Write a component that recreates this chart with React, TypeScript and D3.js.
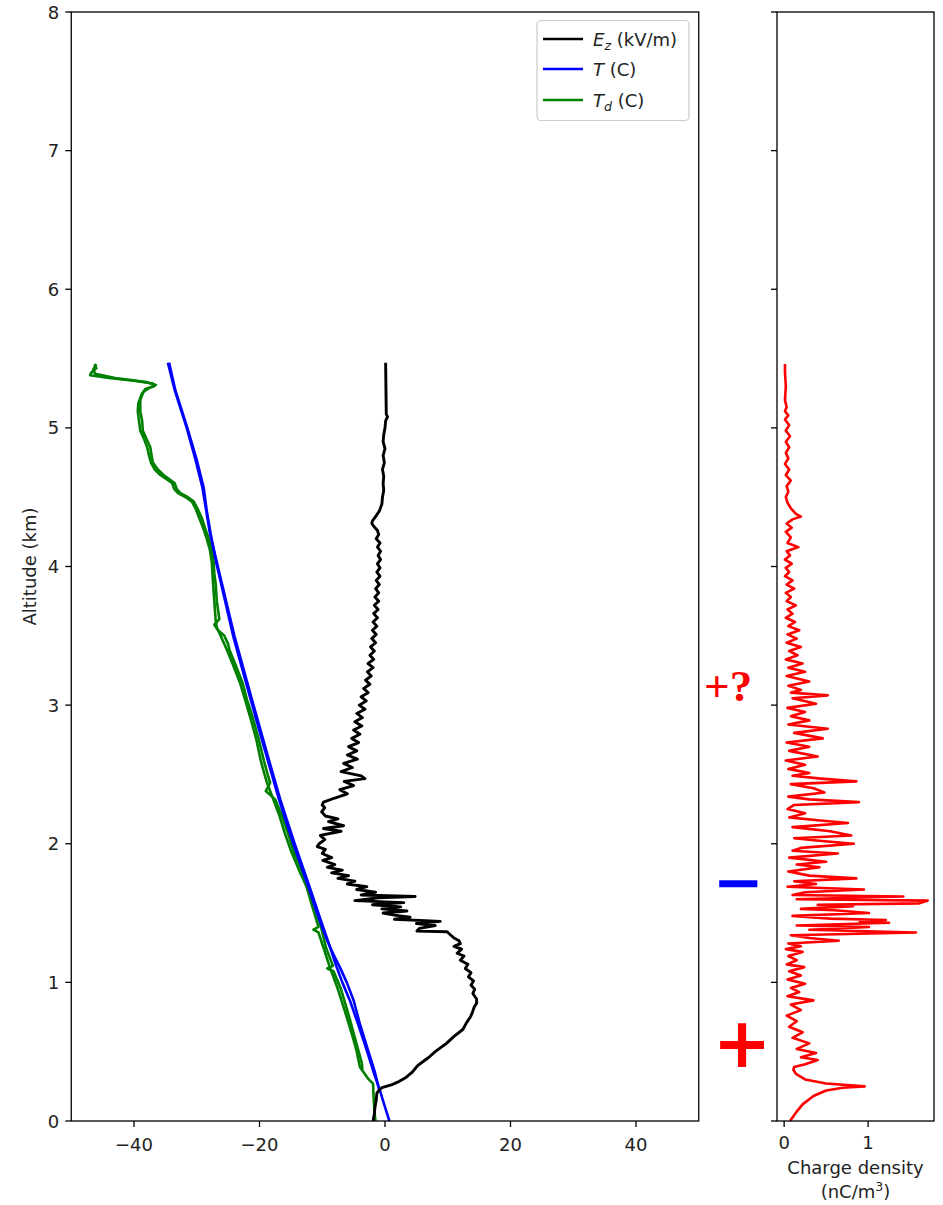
import React from "react";
import * as d3 from "d3";

// [altitude km, value]
const ezProfile: [number, number][] = [
  [5.47, 0.1], [5.1, 0.2], [5.08, 0.4], [5.05, 0.1], [5.0, 0.0], [4.95, -0.2], [4.9, -0.3], [4.85, 0.0],
  [4.8, -0.3], [4.75, -0.1], [4.7, -0.4], [4.65, -0.2], [4.6, -0.3], [4.55, -0.2], [4.5, -0.4], [4.45, -0.5],
  [4.4, -0.9], [4.36, -1.5], [4.33, -2.0], [4.31, -2.1], [4.29, -1.8], [4.26, -1.2], [4.23, -1.0], [4.2, -1.4],
  [4.17, -0.8], [4.14, -1.2], [4.11, -0.7], [4.08, -1.1], [4.05, -0.7], [4.02, -1.2], [3.99, -0.8], [3.96, -1.3],
  [3.93, -0.8], [3.9, -1.4], [3.87, -0.9], [3.84, -1.5], [3.81, -1.0], [3.78, -1.6], [3.75, -1.0], [3.72, -1.7],
  [3.69, -1.1], [3.66, -1.8], [3.63, -1.2], [3.6, -1.9], [3.57, -1.3], [3.54, -2.0], [3.51, -1.4], [3.48, -2.1],
  [3.45, -1.5], [3.42, -2.3], [3.39, -1.7], [3.36, -2.4], [3.33, -1.8], [3.3, -2.7], [3.27, -1.9], [3.24, -2.8],
  [3.21, -2.2], [3.18, -3.1], [3.15, -2.4], [3.12, -3.4], [3.09, -2.7], [3.06, -3.8], [3.03, -3.0], [3.0, -4.1],
  [2.97, -3.2], [2.94, -4.5], [2.91, -3.6], [2.88, -4.8], [2.85, -3.7], [2.82, -5.0], [2.79, -4.0], [2.76, -5.3],
  [2.73, -4.2], [2.7, -5.8], [2.67, -4.5], [2.64, -6.0], [2.61, -4.4], [2.58, -6.6], [2.55, -5.2], [2.52, -7.0],
  [2.49, -3.8], [2.47, -3.2], [2.45, -6.5], [2.42, -5.0], [2.39, -7.2], [2.36, -6.0], [2.33, -8.0], [2.3, -9.8],
  [2.28, -10.0], [2.26, -9.6], [2.23, -10.1], [2.2, -9.5], [2.18, -7.5], [2.16, -9.0], [2.13, -6.6], [2.11, -9.8],
  [2.09, -7.0], [2.06, -10.3], [2.03, -9.6], [2.0, -10.5], [1.98, -10.8], [1.96, -9.5], [1.93, -10.0], [1.9, -8.5],
  [1.88, -9.9], [1.85, -8.0], [1.83, -9.2], [1.81, -6.8], [1.79, -8.5], [1.77, -5.8], [1.75, -7.5], [1.73, -4.8],
  [1.71, -6.0], [1.69, -2.9], [1.67, -4.5], [1.65, -1.5], [1.63, -3.8], [1.62, 4.8], [1.61, -1.0], [1.59, -4.8],
  [1.575, 3.0], [1.56, -2.0], [1.545, 2.5], [1.53, -0.5], [1.515, 3.5], [1.5, -0.3], [1.485, 1.5], [1.47, 4.0],
  [1.455, 1.5], [1.44, 8.8], [1.425, 5.0], [1.41, 8.0], [1.39, 5.5], [1.37, 5.1], [1.365, 9.9], [1.34, 10.5],
  [1.32, 11.0], [1.3, 11.8], [1.28, 12.0], [1.26, 11.0], [1.24, 12.2], [1.21, 11.5], [1.19, 12.6], [1.16, 12.0],
  [1.13, 13.2], [1.1, 12.8], [1.07, 13.7], [1.04, 13.3], [1.01, 14.1], [0.98, 13.7], [0.95, 14.3], [0.92, 14.0],
  [0.88, 14.6], [0.85, 14.6], [0.82, 14.2], [0.78, 13.9], [0.75, 13.6], [0.71, 13.0], [0.66, 12.4], [0.61, 11.0],
  [0.56, 9.8], [0.5, 8.0], [0.46, 7.0], [0.44, 6.4], [0.4, 5.2], [0.35, 4.3], [0.31, 3.2], [0.28, 2.0],
  [0.26, 1.0], [0.24, -0.5], [0.22, -1.0], [0.2, -1.3], [0.15, -1.4], [0.1, -1.6], [0.05, -1.7], [0.0, -1.9],
];

const tempAscent: [number, number][] = [
  [0.0, 0.7], [0.1, 0.0], [0.22, -0.8], [0.35, -1.8], [0.51, -2.9], [0.7, -4.3], [0.87, -5.6], [1.0, -6.8],
  [1.11, -7.7], [1.3, -9.1], [1.47, -10.4], [1.7, -12.1], [2.0, -14.4], [2.32, -16.7], [2.7, -19.1], [3.04, -21.2],
  [3.5, -24.0], [4.03, -26.8], [4.24, -27.9], [4.57, -29.1], [4.77, -30.2], [5.0, -31.6], [5.27, -33.5], [5.47, -34.6],
];

const tempDescent: [number, number][] = [
  [0.22, -0.9], [0.35, -1.6], [0.51, -2.7], [0.7, -4.0], [0.87, -5.0], [1.0, -6.1], [1.11, -7.2], [1.2, -8.2],
  [1.3, -9.2], [1.47, -10.6], [1.7, -12.3], [2.0, -14.6], [2.32, -16.9], [2.7, -19.3], [3.04, -21.4], [3.5, -24.2],
  [4.03, -26.9], [4.24, -27.8], [4.4, -28.4], [4.57, -28.9], [4.77, -30.0], [5.0, -31.5], [5.27, -33.4], [5.47, -34.4],
];

const dewAscent: [number, number][] = [
  [5.46, -46.3], [5.43, -46.0], [5.4, -46.8], [5.38, -47.0], [5.36, -44.0], [5.34, -40.0], [5.32, -37.0], [5.3, -36.8],
  [5.28, -38.2], [5.24, -38.8], [5.18, -39.3], [5.12, -39.4], [5.05, -39.2], [4.98, -39.0], [4.92, -38.4], [4.86, -37.9],
  [4.8, -37.6], [4.75, -37.3], [4.7, -36.7], [4.66, -35.8], [4.63, -34.8], [4.6, -33.9], [4.56, -33.6], [4.53, -33.0],
  [4.5, -31.8], [4.47, -30.8], [4.42, -30.2], [4.35, -29.6], [4.28, -29.0], [4.2, -28.4], [4.12, -27.9], [4.03, -27.6],
  [3.95, -27.5], [3.88, -27.4], [3.75, -27.2], [3.62, -27.0], [3.56, -26.8], [3.5, -26.2], [3.44, -25.6], [3.4, -25.2],
  [3.3, -24.3], [3.16, -23.1], [3.04, -22.3], [2.9, -21.4], [2.75, -20.5], [2.6, -19.8], [2.5, -19.2], [2.44, -18.8],
  [2.32, -17.8], [2.2, -16.8], [2.08, -16.0], [1.95, -15.0], [1.8, -13.6], [1.69, -12.5], [1.55, -11.6], [1.4, -10.6],
  [1.38, -11.4], [1.36, -10.6], [1.25, -9.8], [1.11, -8.8], [0.95, -7.5], [0.75, -6.1], [0.6, -5.1], [0.5, -4.5],
  [0.39, -4.0], [0.3, -2.6], [0.27, -1.9], [0.15, -1.8], [0.03, -1.6], [0.0, -1.5],
];

const dewDescent: [number, number][] = [
  [5.46, -46.0], [5.42, -46.5], [5.39, -46.2], [5.36, -43.0], [5.33, -38.0], [5.31, -36.5], [5.29, -37.5], [5.26, -38.5],
  [5.2, -39.0], [5.12, -39.0], [5.05, -38.7], [4.98, -38.6], [4.92, -38.0], [4.86, -37.4], [4.8, -37.2], [4.75, -37.0],
  [4.7, -36.2], [4.66, -35.3], [4.63, -34.4], [4.6, -33.5], [4.56, -33.2], [4.53, -32.6], [4.5, -31.4], [4.47, -30.5],
  [4.42, -29.9], [4.35, -29.2], [4.28, -28.7], [4.2, -28.1], [4.12, -27.6], [4.03, -27.3], [3.95, -27.2], [3.88, -27.0],
  [3.75, -26.8], [3.62, -26.4], [3.58, -27.2], [3.54, -26.6], [3.5, -25.6], [3.44, -25.0], [3.4, -24.8], [3.3, -23.9],
  [3.16, -22.7], [3.04, -22.0], [2.9, -21.0], [2.75, -20.1], [2.6, -19.3], [2.5, -18.7], [2.44, -18.3], [2.38, -19.0],
  [2.32, -17.5], [2.2, -16.4], [2.08, -15.5], [1.95, -14.6], [1.8, -13.2], [1.69, -12.1], [1.55, -11.2], [1.4, -10.2],
  [1.25, -9.4], [1.12, -8.3], [1.1, -9.2], [1.08, -8.2], [0.95, -7.0], [0.75, -5.7], [0.6, -4.8], [0.5, -4.2],
  [0.42, -3.7], [0.37, -3.6],
];

const chargeDensity: [number, number][] = [
  [5.46, 0.01], [5.4, 0.01], [5.3, 0.02], [5.2, 0.01], [5.15, 0.03], [5.12, 0.01], [5.09, 0.05], [5.06, 0.01],
  [5.02, 0.06], [4.98, 0.02], [4.94, 0.07], [4.9, 0.02], [4.86, 0.06], [4.82, 0.02], [4.78, 0.05], [4.74, 0.01],
  [4.7, 0.06], [4.66, 0.02], [4.62, 0.08], [4.58, 0.03], [4.54, 0.05], [4.5, 0.02], [4.46, 0.04], [4.42, 0.08],
  [4.38, 0.14], [4.36, 0.2], [4.34, 0.1], [4.31, 0.03], [4.28, 0.09], [4.25, 0.02], [4.21, 0.08], [4.17, 0.04],
  [4.14, 0.17], [4.11, 0.03], [4.08, 0.07], [4.05, 0.01], [4.02, 0.09], [3.99, 0.02], [3.96, 0.06], [3.93, 0.01],
  [3.9, 0.1], [3.87, 0.03], [3.84, 0.12], [3.81, 0.02], [3.78, 0.08], [3.75, 0.03], [3.72, 0.14], [3.69, 0.04],
  [3.66, 0.1], [3.63, 0.02], [3.6, 0.13], [3.57, 0.05], [3.54, 0.18], [3.51, 0.04], [3.48, 0.15], [3.45, 0.03],
  [3.42, 0.2], [3.39, 0.06], [3.36, 0.16], [3.33, 0.02], [3.3, 0.22], [3.27, 0.05], [3.24, 0.25], [3.21, 0.03],
  [3.17, 0.3], [3.14, 0.05], [3.11, 0.2], [3.09, 0.08], [3.07, 0.52], [3.05, 0.1], [3.01, 0.38], [2.98, 0.04],
  [2.95, 0.25], [2.92, 0.08], [2.89, 0.3], [2.86, 0.05], [2.83, 0.52], [2.8, 0.12], [2.76, 0.46], [2.73, 0.03],
  [2.7, 0.3], [2.67, 0.06], [2.63, 0.4], [2.6, 0.02], [2.57, 0.25], [2.54, 0.05], [2.51, 0.3], [2.49, 0.1],
  [2.47, 0.44], [2.45, 0.86], [2.43, 0.08], [2.4, 0.35], [2.37, 0.48], [2.34, 0.05], [2.32, 0.3], [2.3, 0.89],
  [2.28, 0.12], [2.25, 0.04], [2.22, 0.25], [2.19, 0.06], [2.17, 0.4], [2.15, 0.76], [2.12, 0.1], [2.09, 0.55],
  [2.06, 0.8], [2.04, 0.12], [2.02, 0.45], [2.0, 0.83], [1.97, 0.2], [1.95, 0.1], [1.93, 0.64], [1.9, 0.06],
  [1.87, 0.5], [1.85, 0.15], [1.83, 0.42], [1.8, 0.05], [1.77, 0.3], [1.75, 0.86], [1.73, 0.12], [1.71, 0.38],
  [1.69, 0.04], [1.67, 0.95], [1.65, 0.25], [1.63, 0.1], [1.62, 1.42], [1.6, 0.15], [1.59, 1.71], [1.57, 1.61],
  [1.56, 0.4], [1.55, 0.82], [1.53, 0.2], [1.52, 0.6], [1.5, 1.01], [1.48, 0.1], [1.46, 0.55], [1.45, 1.21],
  [1.44, 0.9], [1.43, 1.25], [1.41, 0.15], [1.4, 1.01], [1.38, 0.3], [1.36, 1.57], [1.34, 0.08], [1.32, 0.3],
  [1.3, 0.65], [1.28, 0.05], [1.26, 0.2], [1.24, 0.02], [1.22, 0.22], [1.19, 0.05], [1.16, 0.15], [1.13, 0.03],
  [1.11, 0.24], [1.08, 0.06], [1.05, 0.2], [1.02, 0.04], [0.99, 0.25], [0.96, 0.08], [0.93, 0.18], [0.9, 0.04],
  [0.87, 0.35], [0.84, 0.08], [0.8, 0.2], [0.76, 0.03], [0.72, 0.15], [0.68, 0.06], [0.64, 0.22], [0.6, 0.1],
  [0.56, 0.3], [0.52, 0.15], [0.49, 0.38], [0.46, 0.2], [0.44, 0.4], [0.41, 0.25], [0.39, 0.12], [0.37, 0.11],
  [0.34, 0.14], [0.3, 0.25], [0.27, 0.5], [0.25, 0.96], [0.24, 0.7], [0.22, 0.5], [0.18, 0.35], [0.12, 0.22],
  [0.06, 0.14], [0.0, 0.07],
];

const mainXTicks = [-40, -20, 0, 20, 40];
const yTicks = [0, 1, 2, 3, 4, 5, 6, 7, 8];
const rightXTicks = [0, 1];

const FONT = "DejaVu Sans";
const FS = 18;
const fmt = (v: number) => (v < 0 ? "\u2212" + Math.abs(v) : String(v));

export default function App() {
  const x = d3.scaleLinear().domain([-50, 50]).range([71.25, 698.75]);
  const y = d3.scaleLinear().domain([0, 8]).range([1121, 12]);
  const xr = d3.scaleLinear().domain([-0.085, 1.785]).range([777, 934]);

  const lineMain = d3.line<[number, number]>().x((d) => x(d[1])).y((d) => y(d[0]));
  const lineRight = d3.line<[number, number]>().x((d) => xr(d[1])).y((d) => y(d[0]));

  const top = y(8);
  const bottom = y(0);
  const tick = 6;
  const lw = 2.6;

  return (
    <svg width={943} height={1205} style={{ position: "absolute", left: 0, top: 0, background: "#fff" }} fontFamily={FONT}>
      <rect x={0} y={0} width={943} height={1205} fill="#fff" />
      {/* Main panel data */}
      <path d={lineMain(dewAscent) || ""} fill="none" stroke="#008000" strokeWidth={lw} strokeLinejoin="round" />
      <path d={lineMain(dewDescent) || ""} fill="none" stroke="#008000" strokeWidth={lw} strokeLinejoin="round" />
      <path d={lineMain(tempAscent) || ""} fill="none" stroke="#0000ff" strokeWidth={lw} strokeLinejoin="round" />
      <path d={lineMain(tempDescent) || ""} fill="none" stroke="#0000ff" strokeWidth={lw} strokeLinejoin="round" />
      <path d={lineMain(ezProfile) || ""} fill="none" stroke="#000" strokeWidth={lw + 0.3} strokeLinejoin="round" />

      {/* Main frame */}
      <rect x={x(-50)} y={top} width={x(50) - x(-50)} height={bottom - top} fill="none" stroke="#000" strokeWidth={1.3} />
      {mainXTicks.map((t) => (
        <g key={"mx" + t}>
          <line x1={x(t)} x2={x(t)} y1={bottom} y2={bottom + tick} stroke="#000" strokeWidth={1.3} />
          <text x={x(t)} y={bottom + 30} textAnchor="middle" fontSize={FS} fill="#222">{fmt(t)}</text>
        </g>
      ))}
      {yTicks.map((t) => (
        <g key={"my" + t}>
          <line x1={x(-50) - tick} x2={x(-50)} y1={y(t)} y2={y(t)} stroke="#000" strokeWidth={1.3} />
          <text x={x(-50) - 12} y={y(t) + 6.5} textAnchor="end" fontSize={FS} fill="#222">{t}</text>
        </g>
      ))}
      <text transform={`translate(36,${(top + bottom) / 2}) rotate(-90)`} textAnchor="middle" fontSize={FS} fill="#222">Altitude (km)</text>

      {/* Legend */}
      <g>
        <rect x={537} y={20.5} width={152} height={100} rx={4} fill="#fff" fillOpacity={0.8} stroke="#ccc" strokeWidth={1.2} />
        <line x1={543} x2={583} y1={39} y2={39} stroke="#000" strokeWidth={lw} />
        <text x={593} y={45.5} fontSize={FS} fill="#222">
          <tspan fontStyle="italic">E</tspan>
          <tspan fontStyle="italic" fontSize={FS * 0.7} dy={4}>z</tspan>
          <tspan dy={-4}> (kV/m)</tspan>
        </text>
        <line x1={543} x2={583} y1={69} y2={69} stroke="#0000ff" strokeWidth={lw} />
        <text x={593} y={75.5} fontSize={FS} fill="#222">
          <tspan fontStyle="italic">T</tspan>
          <tspan> (C)</tspan>
        </text>
        <line x1={543} x2={583} y1={100} y2={100} stroke="#008000" strokeWidth={lw} />
        <text x={593} y={106.5} fontSize={FS} fill="#222">
          <tspan fontStyle="italic">T</tspan>
          <tspan fontStyle="italic" fontSize={FS * 0.7} dy={4}>d</tspan>
          <tspan dy={-4}> (C)</tspan>
        </text>
      </g>

      {/* Right panel */}
      <path d={lineRight(chargeDensity) || ""} fill="none" stroke="#ff0000" strokeWidth={lw} strokeLinejoin="round" />
      <rect x={xr(-0.085)} y={top} width={xr(1.785) - xr(-0.085)} height={bottom - top} fill="none" stroke="#000" strokeWidth={1.3} />
      {rightXTicks.map((t) => (
        <g key={"rx" + t}>
          <line x1={xr(t)} x2={xr(t)} y1={bottom} y2={bottom + tick} stroke="#000" strokeWidth={1.3} />
          <text x={xr(t)} y={bottom + 28} textAnchor="middle" fontSize={FS} fill="#222">{fmt(t)}</text>
        </g>
      ))}
      {yTicks.map((t) => (
        <line key={"ry" + t} x1={xr(-0.085) - tick} x2={xr(-0.085)} y1={y(t)} y2={y(t)} stroke="#000" strokeWidth={1.3} />
      ))}
      <text x={(xr(-0.085) + xr(1.785)) / 2} y={1174} textAnchor="middle" fontSize={FS} fill="#222">Charge density</text>
      <text x={(xr(-0.085) + xr(1.785)) / 2} y={1198} textAnchor="middle" fontSize={FS} fill="#222">
        <tspan>(nC/m</tspan>
        <tspan fontSize={FS * 0.7} dy={-7}>3</tspan>
        <tspan dy={7}>)</tspan>
      </text>

      {/* Charge annotations */}
      <text x={704} y={701} fontFamily="Liberation Serif" fontWeight="bold" fontSize={45} fill="#ff0000">+?</text>
      <text x={738} y={883 + 0.33 * 61} textAnchor="middle" fontFamily="DejaVu Sans" fontWeight="bold" fontSize={61} fill="#0000ff">{"\u2212"}</text>
      <text x={742} y={1044 + 0.33 * 70} textAnchor="middle" fontFamily="DejaVu Sans" fontWeight="bold" fontSize={70} fill="#ff0000">+</text>
    </svg>
  );
}
